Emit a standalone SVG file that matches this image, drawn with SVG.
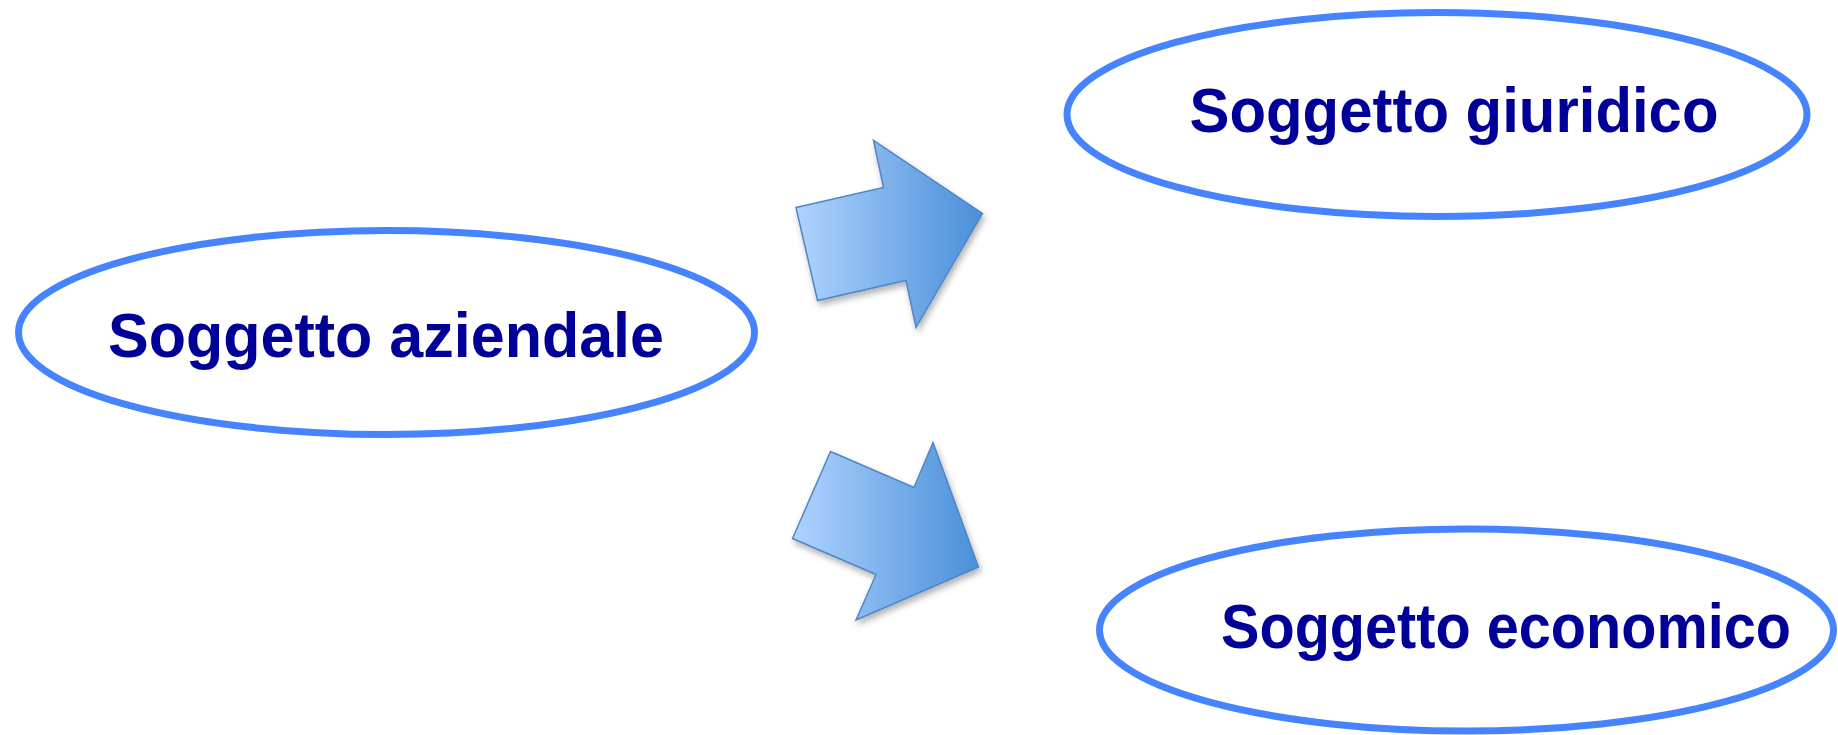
<svg xmlns="http://www.w3.org/2000/svg" width="1838" height="735" viewBox="0 0 1838 735">
<style>
.node ellipse{fill:#ffffff;stroke:#4683ff;stroke-width:7}
.node text{font-family:"Comic Sans MS","Liberation Sans",sans-serif;font-weight:bold;font-size:63px;fill:#000099}
.arrow{fill:url(#g);stroke:#4f86c6;stroke-width:1.5;stroke-linejoin:miter;filter:url(#sh)}
</style>
<defs>
<linearGradient id="g" x1="0" y1="0" x2="1" y2="0">
<stop offset="0" stop-color="#b0d3ff"/>
<stop offset="1" stop-color="#4a8fd8"/>
</linearGradient>
<filter id="sh" x="-20%" y="-20%" width="140%" height="140%">
<feDropShadow dx="2" dy="4" stdDeviation="3" flood-color="#000" flood-opacity="0.3"/>
</filter>
</defs>
<rect width="1838" height="735" fill="#ffffff"/>
<g id="connectors">
<polygon class="arrow" points="796,207.5 883.5,187.5 873.5,140.5 982.5,213.5 916,327.5 906,280.5 817.5,300.5"/>
<polygon class="arrow" points="830.5,451.5 914,487.5 933,442.5 978.5,567 856,620 876,574.5 792.5,538.5"/>
</g>
<g id="soggetto-aziendale" class="node">
<ellipse cx="386.5" cy="332.5" rx="368" ry="102"/>
<text x="386" y="357" text-anchor="middle" textLength="556" lengthAdjust="spacingAndGlyphs">Soggetto aziendale</text>
</g>
<g id="soggetto-giuridico" class="node">
<ellipse cx="1437" cy="114.5" rx="370" ry="102"/>
<text x="1454" y="132" text-anchor="middle" textLength="529" lengthAdjust="spacingAndGlyphs">Soggetto giuridico</text>
</g>
<g id="soggetto-economico" class="node">
<ellipse cx="1466.5" cy="630" rx="367" ry="101"/>
<text x="1506" y="648" text-anchor="middle" textLength="570" lengthAdjust="spacingAndGlyphs">Soggetto economico</text>
</g>
</svg>
